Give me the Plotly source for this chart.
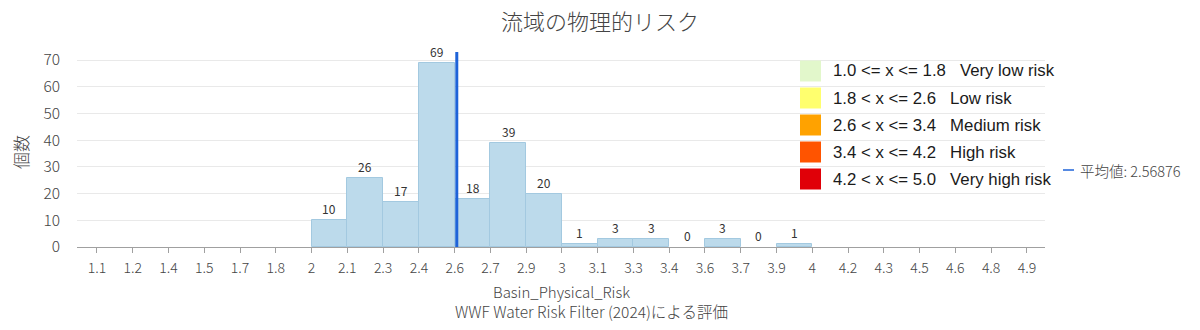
import plotly.graph_objects as go

# ---- data ----
tick_labels = ["1.1", "1.2", "1.4", "1.5", "1.7", "1.8", "2", "2.1", "2.3", "2.4", "2.6",
               "2.7", "2.9", "3", "3.1", "3.3", "3.4", "3.6", "3.7", "3.9", "4", "4.2",
               "4.3", "4.5", "4.6", "4.8", "4.9"]
bin_start = 1.1
bin_width = 0.146
# counts per bin (None = no data / no label)
counts = [None, None, None, None, None, None, 10, 26, 17, 69, 18, 39, 20, 1,
          3, 3, 0, 3, 0, 1, None, None, None, None, None, None]
mean_value = 2.56876
legend_labels = ["1.0 <= x <= 1.8   Very low risk",
                 "1.8 < x <= 2.6   Low risk",
                 "2.6 < x <= 3.4   Medium risk",
                 "3.4 < x <= 4.2   High risk",
                 "4.2 < x <= 5.0   Very high risk"]
legend_colors = ["#e2f7cb", "#ffff6e", "#ffa200", "#ff5400", "#e00008"]

# ---- derived positions ----
tick_vals = [bin_start + k * bin_width for k in range(len(tick_labels))]
centers = [bin_start + (k + 0.5) * bin_width for k in range(len(counts))]
bx = [c for c, v in zip(centers, counts) if v is not None]
by = [v for v in counts if v is not None]

FONT = "Noto Sans CJK JP"

fig = go.Figure()
fig.add_trace(go.Bar(
    x=bx, y=by, width=bin_width,
    marker=dict(color="#bcdaeb",
                line=dict(color="#a3c9e0", width=[1 if v > 0 else 0 for v in by])),
    hoverinfo="skip", showlegend=False,
))

annotations = []
for x, y in zip(bx, by):
    annotations.append(dict(x=x, y=y, xref="x", yref="y", text=str(y), showarrow=False,
                            yanchor="bottom", yshift=1,
                            font=dict(family="Liberation Sans Narrow, " + FONT, size=12, color="#333")))

shapes = [dict(type="line", xref="x", yref="y", x0=mean_value, x1=mean_value, y0=0, y1=73,
               line=dict(color="#1e63d8", width=3))]

# custom legend (pixel positions converted to paper coords)
W, H = 1200, 330
L, R, T, B = 77, 155, 48, 83
pw, ph = W - L - R, H - T - B
def px(x):
    return (x - L) / pw
def py(y):
    return (H - B - y) / ph

row_y = [71, 98, 125, 152, 179]
for ry, lab, col in zip(row_y, legend_labels, legend_colors):
    shapes.append(dict(type="rect", xref="paper", yref="paper",
                       x0=px(800), x1=px(821), y0=py(ry + 10.5), y1=py(ry - 10.5),
                       fillcolor=col, line=dict(width=0)))
    annotations.append(dict(x=px(831), y=py(ry), xref="paper", yref="paper", text=lab,
                            showarrow=False, xanchor="left", yanchor="middle",
                            font=dict(family="Liberation Sans", size=16.8, color="#1a1a1a")))

# mean legend
shapes.append(dict(type="line", xref="paper", yref="paper", x0=px(1063), x1=px(1074),
                   y0=py(170), y1=py(170), line=dict(color="#1e63d8", width=1.5)))
annotations.append(dict(x=px(1078), y=py(170), xref="paper", yref="paper", text="平均値: 2.56876",
                        showarrow=False, xanchor="left", yanchor="middle",
                        font=dict(family=FONT, size=14.5, color="#444", weight=300)))

# y axis title
annotations.append(dict(x=px(20), y=py(152), xref="paper", yref="paper", text="個数",
                        showarrow=False, textangle=-90, xanchor="center", yanchor="middle",
                        font=dict(family=FONT, size=17, color="#444", weight=300)))
# x axis title (two lines)
annotations.append(dict(x=px(561), y=py(291), xref="paper", yref="paper", text="Basin_Physical_Risk",
                        showarrow=False, xanchor="center", yanchor="middle",
                        font=dict(family=FONT, size=15, color="#444", weight=300)))
annotations.append(dict(x=px(591), y=py(311), xref="paper", yref="paper",
                        text="WWF Water Risk Filter (2024)による評価",
                        showarrow=False, xanchor="center", yanchor="middle",
                        font=dict(family=FONT, size=15.5, color="#444", weight=300)))

fig.update_layout(
    width=W, height=H,
    margin=dict(l=L, r=R, t=T, b=B),
    paper_bgcolor="white", plot_bgcolor="white",
    title=dict(text="流域の物理的リスク", x=0.5, xanchor="center", y=1 - 22 / H, yanchor="middle",
               font=dict(family=FONT, size=22, color="#444", weight=300)),
    xaxis=dict(range=[1.0184, 4.97], tickvals=tick_vals, ticktext=tick_labels,
               showgrid=False, zeroline=False, showline=True, linecolor="#a0a0a0", linewidth=1,
               ticks="outside", ticklen=5, tickcolor="#a0a0a0", ticklabelstandoff=3,
               tickfont=dict(family=FONT, size=14, color="#444", weight=300)),
    yaxis=dict(range=[0, 74.5], tickvals=[0, 10, 20, 30, 40, 50, 60, 70],
               showgrid=True, gridcolor="#e9e9e9", gridwidth=1, zeroline=False, showline=False,
               ticklabelstandoff=16,
               tickfont=dict(family=FONT, size=15.5, color="#444", weight=300)),
    annotations=annotations,
    shapes=shapes,
    bargap=0,
    showlegend=False,
)

fig.write_html("out.html")
